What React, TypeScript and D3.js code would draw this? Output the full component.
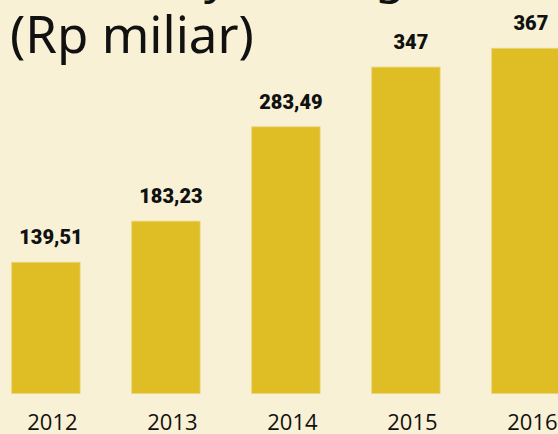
import React from "react";
import * as d3 from "d3";

const years = ["2012", "2013", "2014", "2015", "2016"];
const values = [139.51, 183.23, 283.49, 347, 367];
const valueLabels = ["139,51", "183,23", "283,49", "347", "367"];
const titleLines = ["Total Biaya Tenaga", "(Rp miliar)"];

const W = 558;
const H = 434;

export default function App() {
  const x = d3.scaleBand<string>().domain(years).range([-14.1, 585.9]).paddingInner(0.43).paddingOuter(0.215);
  const y = d3.scaleLinear().domain([0, 400]).range([393.5, 393.5 - 400 * 0.9407]);
  const bg = "#F8F1D6";
  const barColor = "#DFBE25";
  return (
    <svg width={W} height={H} style={{ position: "fixed", left: 0, top: 0, display: "block" }}>
      <rect x={0} y={0} width={W} height={H} fill={bg} />
      <text x={12} y={-7} fontFamily="Noto Sans" fontSize={48} fill="#111">{titleLines[0]}</text>
      <text x={10} y={53} fontFamily="Noto Sans" fontSize={51} fill="#111">{titleLines[1]}</text>
      {years.map((yr, i) => {
        const bx = x(yr)!;
        const bw = x.bandwidth();
        const top = y(values[i]);
        return (
          <g key={yr}>
            <rect x={bx} y={top} width={bw} height={y(0) - top} fill={barColor} stroke="#EAD57A" strokeWidth={0.8} />
            <text x={bx + bw / 2 + 5} y={top - 18} textAnchor="middle" fontFamily="Roboto" fontWeight={900} fontSize={20} fill="#111">{valueLabels[i]}</text>
            <text x={bx + bw / 2 + 6.5} y={430} textAnchor="middle" fontFamily="Open Sans" fontSize={22} fill="#111">{yr}</text>
          </g>
        );
      })}
    </svg>
  );
}
